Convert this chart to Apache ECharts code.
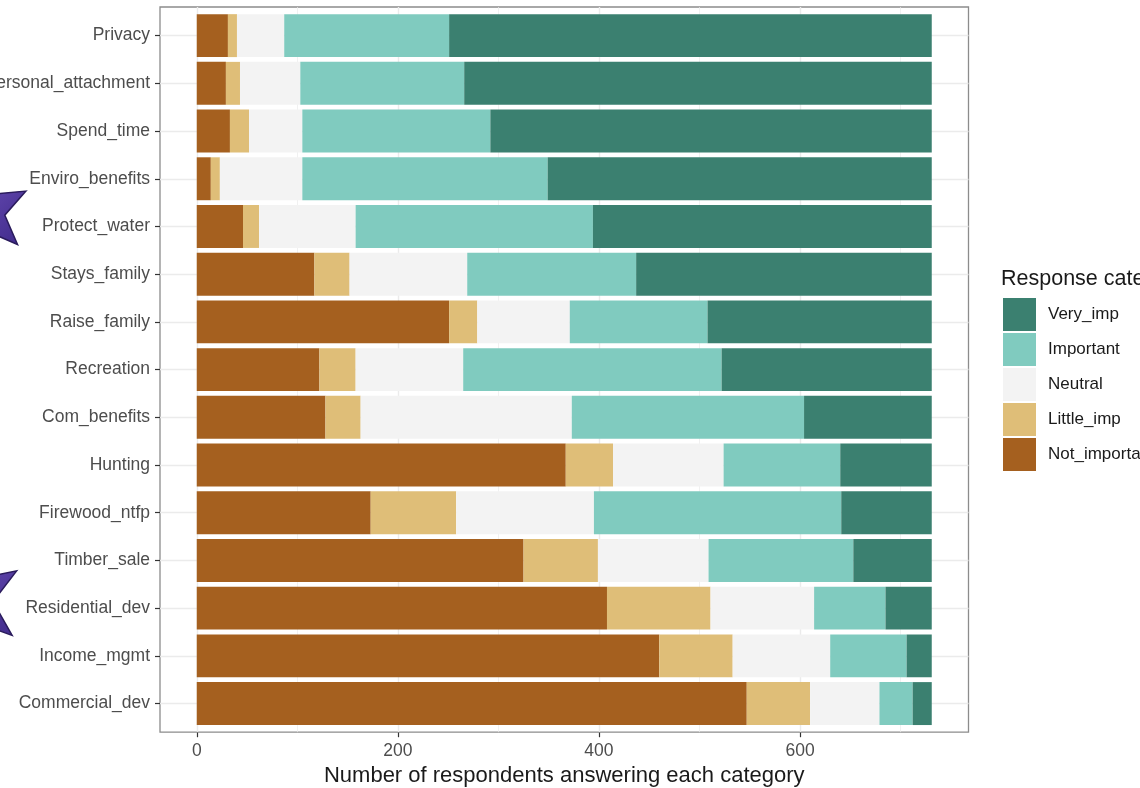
<!DOCTYPE html>
<html><head><meta charset="utf-8">
<script src="https://cdn.jsdelivr.net/npm/echarts@6/dist/echarts.min.js"></script>
<style>html,body{margin:0;padding:0;background:#fff}#c{width:1140px;height:788px}</style>
</head><body><div id="c"></div>
<script>
const categories = ['Privacy','Personal_attachment','Spend_time','Enviro_benefits','Protect_water','Stays_family','Raise_family','Recreation','Com_benefits','Hunting','Firewood_ntfp','Timber_sale','Residential_dev','Income_mgmt','Commercial_dev'];
const notImportant = [31,29,33,14,46,117,251,122,128,367,173,325,408,460,547];
const littleImp    = [9,14,19,9,16,35,28,36,35,47,85,74,103,73,63];
const neutral      = [47,60,53,82,96,117,92,107,210,110,137,110,103,97,69];
const important    = [164,163,187,244,236,168,137,257,231,116,246,144,71,76,33];
const veryImp      = [480,465,439,382,337,294,223,209,127,91,90,78,46,25,19];
const xTicks = [0,200,400,600];
const xMinor = [100,300,500,700];
const legendOrder = ['Very_imp','Important','Neutral','Little_imp','Not_important'];

const FONT = '"Liberation Sans", Arial, Helvetica, sans-serif';
const W = 1140, H = 788;
const panelLeft = 160, panelRight = 968.5, panelTop = 7, panelBottom = 732.2;
const n = categories.length;
const cat = (panelBottom - panelTop) / (n + 0.2);
const inset = 0.1 * cat;

const totals = categories.map((_, i) => notImportant[i] + littleImp[i] + neutral[i] + important[i] + veryImp[i]);
const maxTotal = Math.max(...totals);
const xMin = -0.05 * maxTotal, xMax = maxTotal * 1.05;

function star(cx, cy, R, r, a0) {
  const pts = [];
  for (let k = 0; k < 10; k++) {
    const a = (a0 + k * 36) * Math.PI / 180;
    const rad = k % 2 === 0 ? R : r;
    pts.push([cx + rad * Math.cos(a), cy + rad * Math.sin(a)]);
  }
  return pts;
}
const starFill = new echarts.graphic.LinearGradient(0, 0, 1, 1, [
  { offset: 0, color: '#7a5cc8' }, { offset: 1, color: '#3b2685' }
]);

const seriesDefs = [
  ['Not_important', notImportant, '#a5601f'],
  ['Little_imp', littleImp, '#dfbe78'],
  ['Neutral', neutral, '#f3f3f3'],
  ['Important', important, '#80cbbf'],
  ['Very_imp', veryImp, '#3b8070']
];

const gridColor = '#ebebeb';
const gridLines = xTicks.map(v => ({ xAxis: v, lineStyle: { color: gridColor, width: 1.4, type: 'solid' } }))
  .concat(xMinor.map(v => ({ xAxis: v, lineStyle: { color: gridColor, width: 0.7, type: 'solid' } })))
  .concat(categories.map((c, i) => ({ yAxis: i, lineStyle: { color: gridColor, width: 1.4, type: 'solid' } })));

const chart = echarts.init(document.getElementById('c'), null, { renderer: 'canvas', width: W, height: H });
chart.setOption({
  animation: false,
  backgroundColor: '#ffffff',
  textStyle: { fontFamily: FONT },
  title: {
    text: 'Response category', left: 1001, top: 268, padding: 0,
    textStyle: { fontSize: 21.5, fontWeight: 'normal', color: '#1a1a1a', fontFamily: FONT }
  },
  legend: {
    data: legendOrder, orient: 'vertical', left: 1003, top: 298, padding: 0,
    itemWidth: 33, itemHeight: 33, itemGap: 2, icon: 'rect', selectedMode: false,
    textStyle: { fontSize: 17, color: '#1a1a1a', fontFamily: FONT, padding: [0, 0, 0, 7] }
  },
  grid: [
    { left: panelLeft, right: W - panelRight, top: panelTop, bottom: H - panelBottom,
      containLabel: false, outerBoundsMode: 'none',
      show: true, backgroundColor: '#ffffff', borderColor: '#8c8c8c', borderWidth: 1.3 },
    { left: panelLeft, right: W - panelRight, top: panelTop + inset, bottom: H - panelBottom + inset,
      containLabel: false, outerBoundsMode: 'none' }
  ],
  xAxis: [
    { type: 'value', gridIndex: 0, min: xMin, max: xMax,
      axisLine: { show: false, onZero: false },
      axisTick: { show: true, customValues: xTicks, length: 5, lineStyle: { color: '#333', width: 1.2 } },
      axisLabel: { customValues: xTicks, fontSize: 17.5, color: '#4d4d4d', margin: 10, fontFamily: FONT },
      splitLine: { show: false },
      name: 'Number of respondents answering each category', nameLocation: 'middle', nameGap: 31,
      nameTextStyle: { fontSize: 22, color: '#1a1a1a', fontFamily: FONT } },
    { type: 'value', gridIndex: 1, min: xMin, max: xMax, show: false, splitLine: { show: false } }
  ],
  yAxis: [
    { type: 'value', gridIndex: 0, min: -0.6, max: n - 1 + 0.6, inverse: true, show: false, splitLine: { show: false } },
    { type: 'category', gridIndex: 1, data: categories, inverse: true,
      axisLine: { show: false, onZero: false },
      axisTick: { show: true, alignWithLabel: true, length: 5, lineStyle: { color: '#333', width: 1.2 } },
      axisLabel: { fontSize: 17.5, color: '#4d4d4d', margin: 10, fontFamily: FONT },
      splitLine: { show: false } }
  ],
  series: [
    { type: 'line', xAxisIndex: 0, yAxisIndex: 0, data: [[0, 0]], showSymbol: false, symbolSize: 0, silent: true, z: 1,
      markLine: { silent: true, z: 1, symbol: ['none', 'none'], label: { show: false }, animation: false,
        emphasis: { disabled: true }, data: gridLines } }
  ].concat(seriesDefs.map(([name, data, color]) => ({
    name, type: 'bar', stack: 'total', xAxisIndex: 1, yAxisIndex: 1, data,
    barCategoryGap: '10%', itemStyle: { color }, z: 10, silent: true,
    emphasis: { disabled: true }
  }))),
  graphic: [
    { type: 'polygon', shape: { points: star(-15, 212, 46, 20, -27) }, style: { fill: starFill, stroke: '#2a1b5c', lineWidth: 1.5 }, z: 100 },
    { type: 'polygon', shape: { points: star(-30, 600, 55, 23, -32) }, style: { fill: starFill, stroke: '#2a1b5c', lineWidth: 1.5 }, z: 100 }
  ]
});
</script>
</body></html>
